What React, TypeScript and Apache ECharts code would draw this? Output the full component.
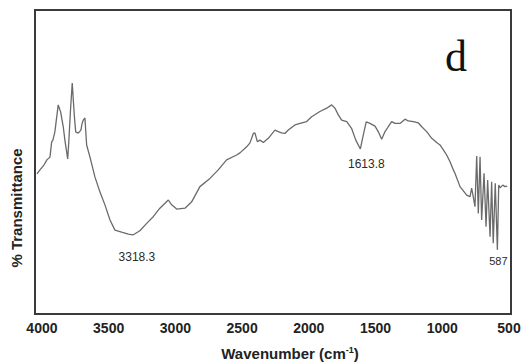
import React, { useEffect, useRef } from "react";
import * as echarts from "echarts";

// FTIR spectrum, wavenumber (cm-1) against % transmittance
const wavenumber = [
  4037, 4015, 3985, 3963, 3940, 3927, 3918, 3903, 3895, 3878,
  3860, 3840, 3828, 3807, 3798, 3786, 3773, 3765, 3756, 3747,
  3728, 3708, 3700, 3690, 3678, 3665, 3640, 3603, 3565, 3528,
  3490, 3453, 3403, 3378, 3353, 3318.3, 3266, 3215, 3166, 3116,
  3053, 3028, 2990, 2928, 2878, 2816, 2741, 2679, 2616, 2541,
  2516, 2466, 2441, 2416, 2404, 2386, 2366, 2341, 2304, 2254,
  2229, 2204, 2179, 2154, 2104, 2066, 2016, 1979, 1917, 1866,
  1829, 1804, 1779, 1754, 1716, 1680, 1648, 1613.8, 1595, 1570,
  1542, 1504, 1480, 1454, 1429, 1405, 1379, 1354, 1317, 1279,
  1255, 1217, 1180, 1154, 1117, 1079, 1042, 1017, 992, 967,
  942, 917, 905, 867, 817, 792, 780, 768, 755, 742,
  730, 717, 705, 687, 672, 660, 642, 630, 618, 603,
  587, 577, 567, 547, 530, 513,
];

const transmittance = [
  46.1, 47.4, 49.0, 50.7, 51.6, 56.6, 57.2, 59.9, 62.8, 68.8,
  66.5, 61.5, 57.2, 51.0, 57.2, 67.1, 76.0, 70.4, 64.5, 59.9,
  59.5, 60.5, 62.5, 63.8, 64.5, 55.6, 51.6, 45.1, 40.1, 35.9,
  30.9, 27.6, 26.9, 26.6, 26.3, 26.0, 27.4, 29.8, 32.0, 34.8,
  37.5, 35.9, 34.5, 34.8, 36.9, 41.9, 44.6, 47.4, 50.7, 52.3,
  53.0, 55.0, 56.3, 59.4, 59.6, 56.7, 57.2, 56.4, 57.8, 60.5,
  60.0, 59.6, 59.4, 60.5, 62.2, 62.7, 63.3, 64.9, 66.6, 67.7,
  68.8, 67.7, 65.5, 63.8, 63.3, 61.1, 57.2, 54.3, 58.3, 63.2,
  62.7, 61.8, 60.0, 57.5, 60.0, 61.6, 63.3, 62.7, 62.7, 64.1,
  63.5, 63.3, 62.9, 61.6, 60.0, 57.8, 56.4, 55.6, 54.0, 52.3,
  50.1, 47.4, 46.3, 41.9, 39.1, 38.6, 41.4, 38.6, 35.3, 52.0,
  33.1, 51.7, 30.9, 46.3, 28.7, 44.1, 25.4, 43.5, 23.3, 43.0,
  21.1, 42.4, 41.5, 42.4, 41.9, 42.1,
];

const xTicks = [4000, 3500, 3000, 2500, 2000, 1500, 1000, 500];

// Labelled absorption bands
const bandLabels = [3318.3, 1613.8, 587];
const bandOffsets: [number, number][] = [
  [4, 22],
  [6, 15],
  [1, 11],
];
const bandFontSizes = [12, 12, 11];

const SANS = "'Liberation Sans', Arial, sans-serif";

export default function App() {
  const ref = useRef<HTMLDivElement>(null);

  useEffect(() => {
    if (!ref.current) return;
    const chart = echarts.init(ref.current, null, { renderer: "svg" });

    const points = wavenumber.map((w, i) => [w, transmittance[i]]);

    const markData = bandLabels.map((w, i) => {
      const idx = wavenumber.indexOf(w);
      return {
        coord: [w, transmittance[idx]],
        value: w,
        label: {
          show: true,
          formatter: String(w),
          offset: bandOffsets[i],
          fontSize: bandFontSizes[i],
          fontFamily: SANS,
          color: "#2b2b2b",
        },
      };
    });

    chart.setOption({
      animation: false,
      backgroundColor: "#ffffff",
      grid: {
        left: 35,
        right: 18,
        top: 10,
        bottom: 50,
        show: true,
        borderColor: "#3a3a3a",
        borderWidth: 2,
        backgroundColor: "#ffffff",
      },
      xAxis: {
        type: "value",
        inverse: true,
        min: 485,
        max: 4052,
        axisLine: { show: false },
        axisTick: { show: false },
        splitLine: { show: false },
        axisLabel: {
          customValues: xTicks,
          formatter: (v: number) => String(v),
          margin: 7,
          fontSize: 14,
          fontWeight: "bold",
          fontFamily: SANS,
          color: "#222",
        },
      },
      yAxis: {
        type: "value",
        min: 0,
        max: 100,
        axisLine: { show: false },
        axisTick: { show: false },
        splitLine: { show: false },
        axisLabel: { show: false },
      },
      series: [
        {
          type: "line",
          data: points,
          showSymbol: false,
          symbol: "none",
          lineStyle: { color: "#6a6a6a", width: 1.3 },
          markPoint: {
            symbol: "circle",
            symbolSize: 0,
            data: markData,
          },
        },
      ],
      graphic: [
        {
          type: "text",
          x: 290,
          y: 353,
          style: {
            text: "{a|Wavenumber (cm}{s|-1}{a|)}",
            align: "center",
            verticalAlign: "middle",
            rich: {
              a: { fontSize: 15, fontWeight: "bold", fontFamily: SANS, fill: "#222" },
              s: { fontSize: 9, fontWeight: "bold", fontFamily: SANS, fill: "#222", padding: [0, 0, 6, 0] },
            },
          },
        },
        {
          type: "text",
          x: 16,
          y: 208,
          rotation: Math.PI / 2,
          style: {
            text: "% Transmittance",
            align: "center",
            verticalAlign: "middle",
            fontSize: 15,
            fontWeight: "bold",
            fontFamily: SANS,
            fill: "#222",
          },
        },
        {
          type: "text",
          x: 456,
          y: 56,
          style: {
            text: "d",
            align: "center",
            verticalAlign: "middle",
            fontSize: 44,
            fontFamily: "'Liberation Serif', 'Times New Roman', serif",
            fill: "#111",
          },
        },
      ],
    });

    return () => chart.dispose();
  }, []);

  return (
    <div
      ref={ref}
      style={{ position: "fixed", left: 0, top: 0, width: 529, height: 364 }}
    />
  );
}
